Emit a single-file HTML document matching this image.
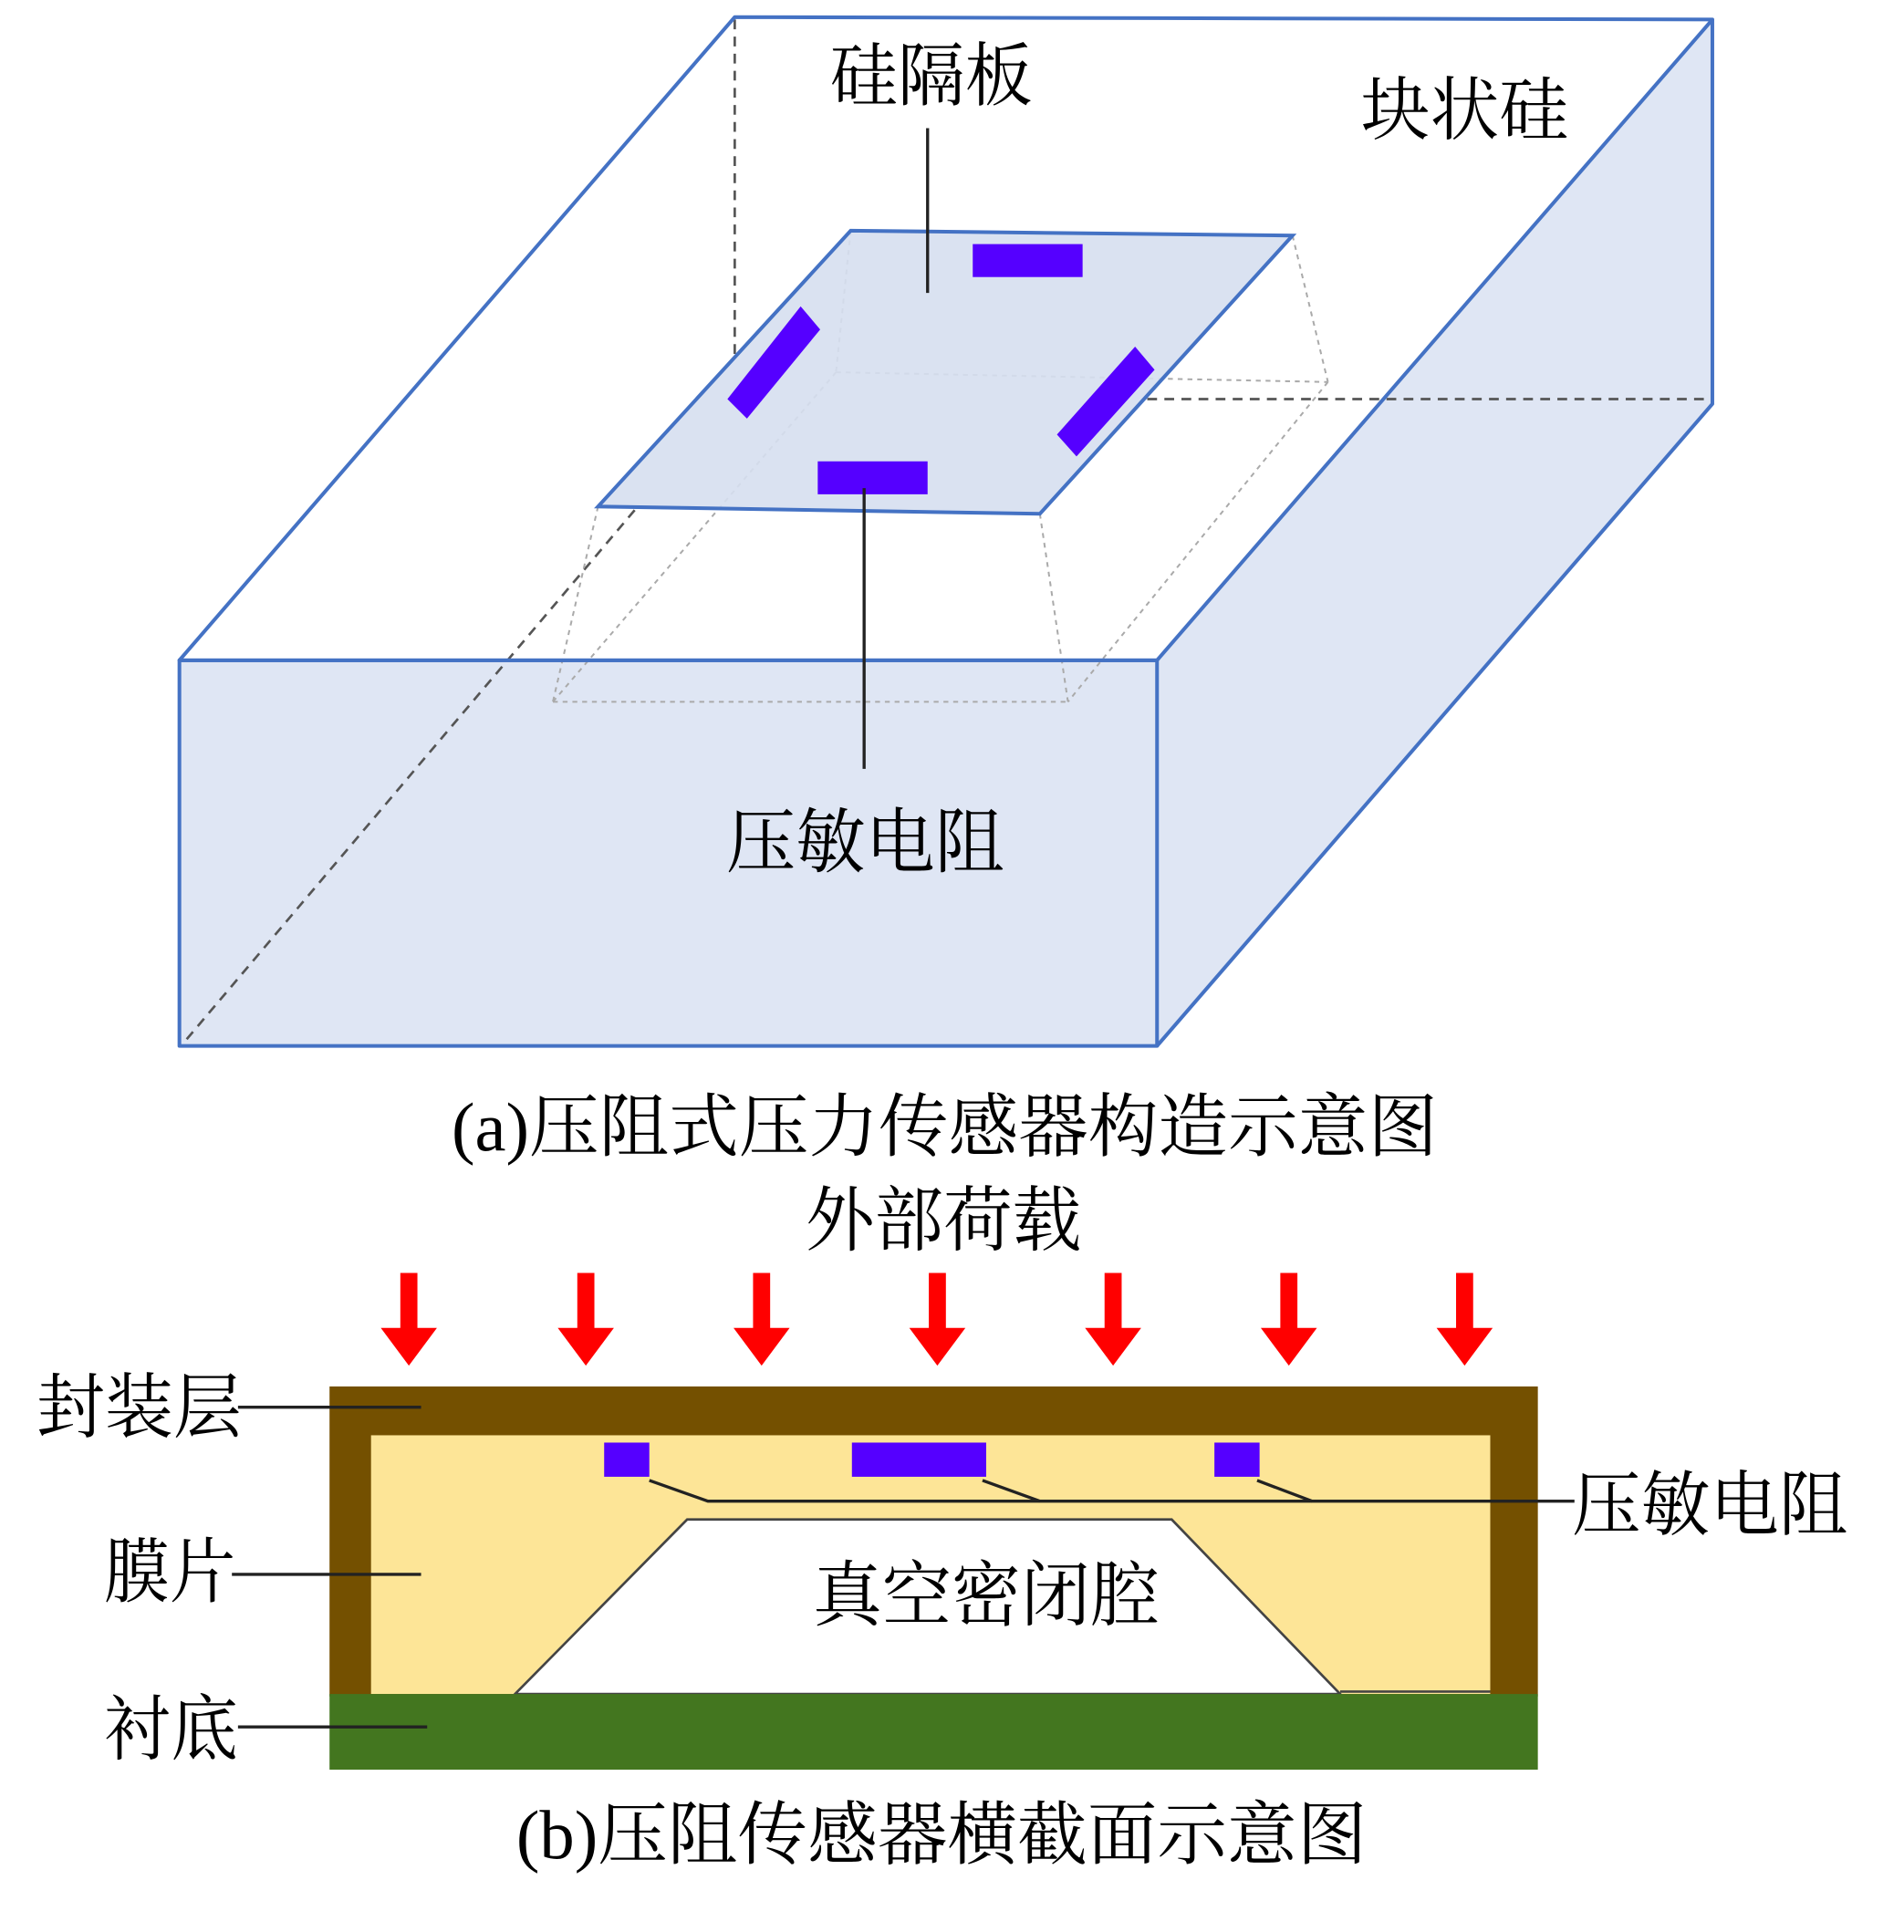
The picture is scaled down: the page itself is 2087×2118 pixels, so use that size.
<!DOCTYPE html>
<html><head><meta charset="utf-8"><style>
html,body{margin:0;padding:0;background:#fff;}
svg{display:block;}
text{font-family:"Liberation Serif","Noto Serif CJK SC",serif;fill:#000;}
</style></head><body>
<svg width="2087" height="2118" viewBox="0 0 1560 1583" preserveAspectRatio="none" xmlns="http://www.w3.org/2000/svg">
<rect width="1560" height="1583" fill="#fff"/>
<polygon points="147,541 948,541 948,857 147,857" fill="#dfe6f4"/>
<polygon points="948,541 1403,16 1403,331 948,857" fill="#dfe6f4"/>
<g stroke="#555" stroke-width="2" stroke-dasharray="8,6" fill="none">
<line x1="602" y1="16" x2="602" y2="290"/>
<line x1="940" y1="327" x2="1403" y2="327"/>
<line x1="520" y1="418" x2="150" y2="855"/>
</g>
<g stroke="#aaa" stroke-width="1.5" stroke-dasharray="4,4" fill="none">
<line x1="697" y1="189" x2="685" y2="305"/>
<line x1="1059" y1="193" x2="1088" y2="313"/>
<line x1="685" y1="305" x2="1088" y2="313"/>
<line x1="685" y1="305" x2="453" y2="575"/>
<line x1="1088" y1="313" x2="875" y2="575"/>
<line x1="453" y1="575" x2="875" y2="575"/>
<line x1="490" y1="415" x2="453" y2="575"/>
<line x1="852" y1="421" x2="875" y2="575"/>
</g>
<g stroke="#4472c4" stroke-width="3" fill="none" stroke-linejoin="round">
<polygon points="147,541 602,14 1403,16 948,541"/>
<polygon points="147,541 948,541 948,857 147,857"/>
<polyline points="1403,16 1403,331 948,857"/>
</g>
<polygon points="697,189 1059,193 852,421 490,415" fill="#d6dff0" fill-opacity="0.9" stroke="#4472c4" stroke-width="3"/>
<g fill="#5500ff">
<rect x="797" y="200" width="90" height="27"/>
<rect x="670" y="378" width="90" height="27"/>
<polygon points="672,270 656,251 596,327 612,343"/>
<polygon points="946,303 930,284 866,356 882,374"/>
</g>
<g stroke="#222" stroke-width="2.5">
<line x1="760" y1="105" x2="760" y2="240"/>
<line x1="708" y1="400" x2="708" y2="630"/>
</g>
<text x="680" y="82" font-size="57" textLength="166" lengthAdjust="spacingAndGlyphs">硅隔板</text>
<text x="1115" y="110" font-size="57" textLength="170" lengthAdjust="spacingAndGlyphs">块状硅</text>
<text x="595" y="710" font-size="58" textLength="228" lengthAdjust="spacingAndGlyphs">压敏电阻</text>
<text x="370" y="943" font-size="57" textLength="808" lengthAdjust="spacingAndGlyphs">(a)压阻式压力传感器构造示意图</text>
<text x="660" y="1020" font-size="58" textLength="226" lengthAdjust="spacingAndGlyphs">外部荷载</text>
<g fill="#ff0000">
<g id="ar"><rect x="328" y="1043" width="14" height="48"/><polygon points="312,1088 358,1088 335,1119"/></g>
<use href="#ar" x="145"/><use href="#ar" x="289"/><use href="#ar" x="433"/><use href="#ar" x="577"/><use href="#ar" x="721"/><use href="#ar" x="865"/>
</g>
<rect x="270" y="1136" width="990" height="254" fill="#745000"/>
<rect x="304" y="1176" width="917" height="212" fill="#fde597"/>
<polygon points="422,1388 563,1245 960,1245 1098,1388" fill="#fff" stroke="#444" stroke-width="2"/>
<line x1="1098" y1="1386" x2="1221" y2="1386" stroke="#444" stroke-width="2"/>
<rect x="270" y="1388" width="990" height="62" fill="#43761f"/>
<g fill="#5500ff">
<rect x="495" y="1182" width="37" height="28"/>
<rect x="698" y="1182" width="110" height="28"/>
<rect x="995" y="1182" width="37" height="28"/>
</g>
<g stroke="#222" stroke-width="2.5" fill="none">
<polyline points="532,1213 580,1230 1290,1230"/>
<line x1="805" y1="1213" x2="852" y2="1230"/>
<line x1="1030" y1="1213" x2="1075" y2="1230"/>
<line x1="195" y1="1153" x2="345" y2="1153"/>
<line x1="190" y1="1290" x2="345" y2="1290"/>
<line x1="195" y1="1415" x2="350" y2="1415"/>
</g>
<text x="30" y="1173" font-size="58" textLength="168" lengthAdjust="spacingAndGlyphs">封装层</text>
<text x="85" y="1308" font-size="58" textLength="108" lengthAdjust="spacingAndGlyphs">膜片</text>
<text x="85" y="1437" font-size="58" textLength="110" lengthAdjust="spacingAndGlyphs">衬底</text>
<text x="1288" y="1253" font-size="58" textLength="226" lengthAdjust="spacingAndGlyphs">压敏电阻</text>
<text x="666" y="1327" font-size="58" textLength="284" lengthAdjust="spacingAndGlyphs">真空密闭腔</text>
<text x="423" y="1523" font-size="57" textLength="697" lengthAdjust="spacingAndGlyphs">(b)压阻传感器横截面示意图</text>
</svg>
</body></html>
